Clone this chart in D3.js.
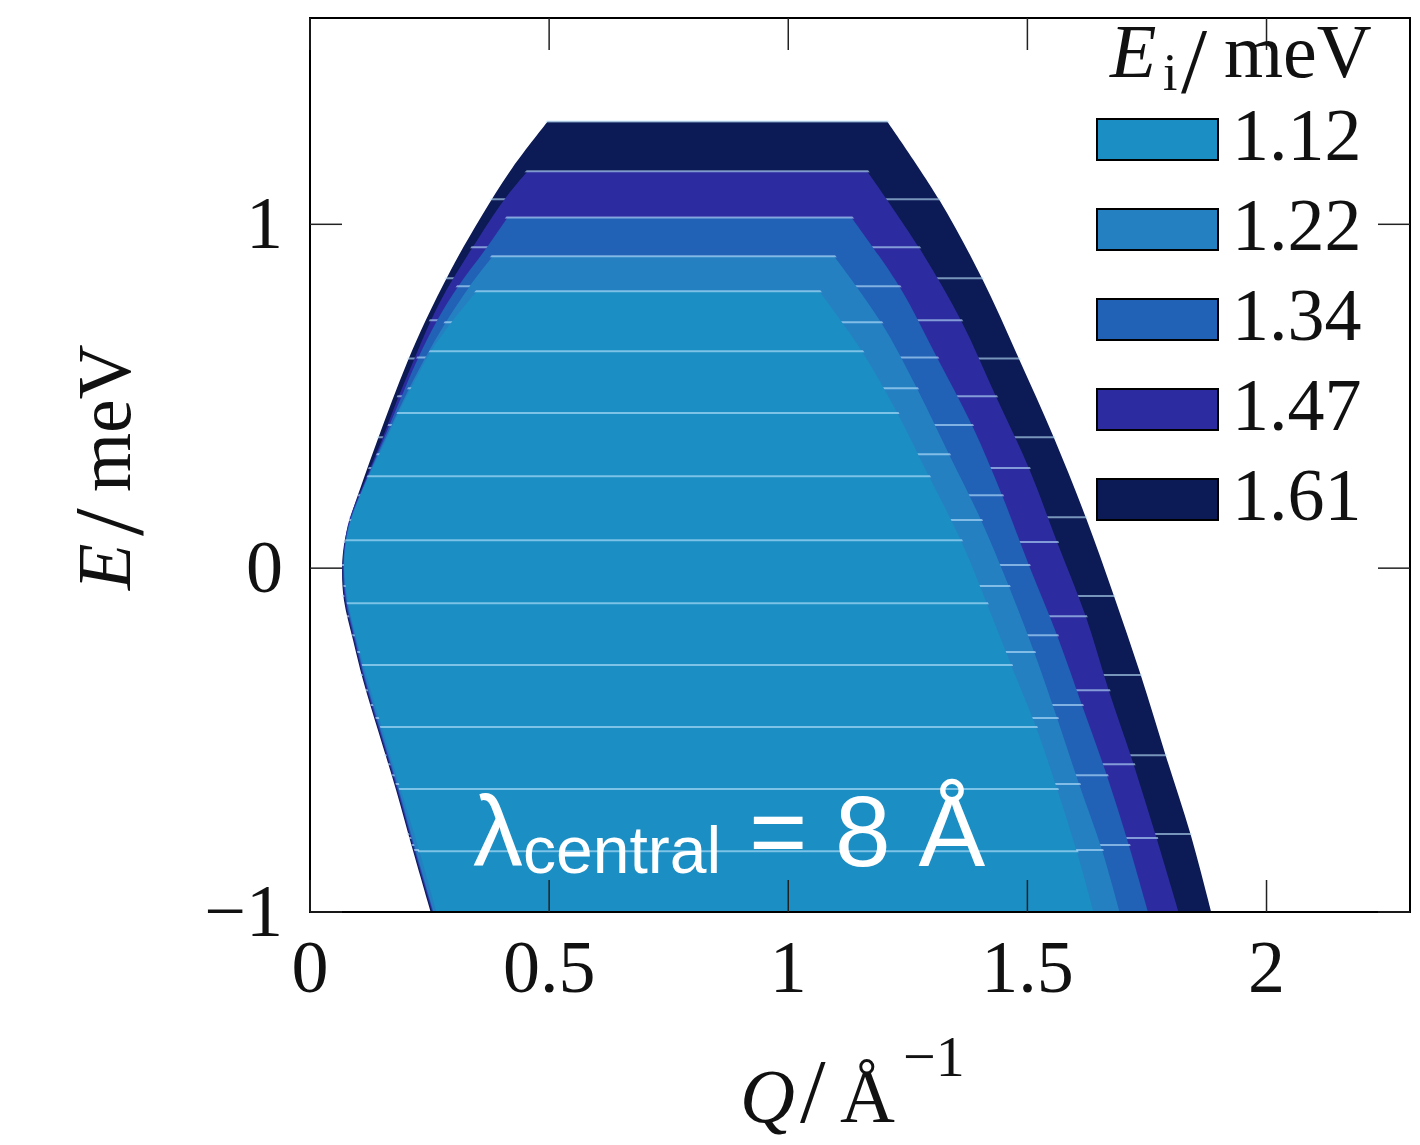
<!DOCTYPE html>
<html>
<head>
<meta charset="utf-8">
<script src="https://cdn.jsdelivr.net/npm/d3@7"></script>
<style>
  html, body { margin: 0; padding: 0; background: #ffffff; }
  svg { display: block; }
</style>
</head>
<body>
<svg id="chart" width="1420" height="1145"></svg>
<script>
// Incident energies (meV) and their fill colours
const incidentEnergies = [1.12, 1.22, 1.34, 1.47, 1.61];
const fillColors = ["#1b8ec4", "#2580c2", "#2161b6", "#2c2ca0", "#0c1a55"];

// Axis ticks
const qTicks = [0, 0.5, 1, 1.5, 2];
const eTicks = [-1, 0, 1];

// Energy-transfer levels (meV) of the slice boundaries, top to bottom
const strips112 = [0.805, 0.631, 0.451, 0.267, 0.081, -0.102, -0.282, -0.462, -0.642, -0.823, -1.003];
const strips122 = [0.907, 0.715, 0.523, 0.331, 0.140, -0.052, -0.244, -0.436, -0.628, -0.820, -1.012];
const strips134 = [1.020, 0.820, 0.613, 0.416, 0.212, 0.009, -0.195, -0.398, -0.602, -0.805, -1.009];
const strips147 = [1.154, 0.933, 0.721, 0.500, 0.291, 0.076, -0.140, -0.355, -0.570, -0.785, -1.000];
const strips161 = [1.299, 1.073, 0.843, 0.610, 0.381, 0.148, -0.081, -0.311, -0.544, -0.773, -1.003];

// High-Q limit (Å⁻¹) at each slice boundary
const right112 = [1.065, 1.154, 1.228, 1.294, 1.361, 1.415, 1.466, 1.518, 1.562, 1.603, 1.639];
const right122 = [1.096, 1.194, 1.269, 1.336, 1.403, 1.461, 1.514, 1.562, 1.608, 1.656, 1.695];
const right134 = [1.132, 1.232, 1.311, 1.384, 1.447, 1.503, 1.562, 1.614, 1.666, 1.712, 1.754];
const right147 = [1.165, 1.273, 1.361, 1.434, 1.503, 1.562, 1.622, 1.670, 1.722, 1.770, 1.816];
const right161 = [1.207, 1.315, 1.405, 1.482, 1.555, 1.622, 1.681, 1.737, 1.789, 1.841, 1.885];

// Low-Q limit as [E, Q] pairs, top to bottom
const left112 = [[0.805,0.349],[0.715,0.296],[0.631,0.253],[0.547,0.220],[0.445,0.183],[0.343,0.149],[0.256,0.119],[0.140,0.086],[0.067,0.075],[-0.006,0.072],[-0.093,0.079],[-0.209,0.098],[-0.326,0.121],[-0.471,0.152],[-0.645,0.190],[-0.820,0.228],[-1.003,0.265]];
const left122 = [[0.907,0.382],[0.820,0.334],[0.715,0.284],[0.605,0.238],[0.488,0.195],[0.372,0.156],[0.256,0.118],[0.140,0.085],[0.067,0.074],[-0.006,0.071],[-0.093,0.077],[-0.209,0.096],[-0.326,0.117],[-0.471,0.148],[-0.645,0.186],[-0.820,0.221],[-1.012,0.261]];
const left134 = [[1.020,0.413],[0.933,0.370],[0.820,0.310],[0.721,0.266],[0.605,0.224],[0.488,0.188],[0.372,0.153],[0.256,0.117],[0.140,0.084],[0.067,0.073],[-0.006,0.070],[-0.093,0.075],[-0.209,0.094],[-0.326,0.115],[-0.471,0.146],[-0.645,0.184],[-0.820,0.219],[-1.009,0.259]];
const left147 = [[1.154,0.455],[1.073,0.407],[0.933,0.340],[0.808,0.285],[0.721,0.253],[0.605,0.217],[0.488,0.182],[0.372,0.150],[0.256,0.115],[0.140,0.082],[0.067,0.072],[-0.006,0.068],[-0.093,0.073],[-0.209,0.092],[-0.326,0.113],[-0.471,0.144],[-0.645,0.182],[-0.820,0.217],[-1.000,0.255]];
const left161 = [[1.299,0.497],[1.166,0.424],[1.020,0.357],[0.866,0.294],[0.721,0.242],[0.605,0.205],[0.488,0.172],[0.372,0.141],[0.256,0.111],[0.140,0.083],[0.067,0.071],[-0.006,0.067],[-0.093,0.071],[-0.209,0.090],[-0.326,0.111],[-0.471,0.142],[-0.645,0.180],[-0.820,0.215],[-1.003,0.253]];

const layers = [
  { ei: incidentEnergies[0], color: fillColors[0], strips: strips112, right: right112, left: left112 },
  { ei: incidentEnergies[1], color: fillColors[1], strips: strips122, right: right122, left: left122 },
  { ei: incidentEnergies[2], color: fillColors[2], strips: strips134, right: right134, left: left134 },
  { ei: incidentEnergies[3], color: fillColors[3], strips: strips147, right: right147, left: left147 },
  { ei: incidentEnergies[4], color: fillColors[4], strips: strips161, right: right161, left: left161 }
];

const svg = d3.select("#chart");
const plot = { left: 310, right: 1410, top: 18, bottom: 912 };

const x = d3.scaleLinear().domain([0, 2.3]).range([plot.left, plot.right]);
const y = d3.scaleLinear().domain([-1, 1.6]).range([plot.bottom, plot.top]);

const defs = svg.append("defs");
defs.append("clipPath").attr("id", "plot-clip")
  .append("rect")
  .attr("x", plot.left).attr("y", plot.top)
  .attr("width", plot.right - plot.left).attr("height", plot.bottom - plot.top);

// Smooth edge through [E, Q] points
const edge = d3.line()
  .x(d => x(d[1]))
  .y(d => y(d[0]))
  .curve(d3.curveCatmullRom.alpha(0.5));

function regionPath(layer) {
  const leftDown = layer.left;                                   // top-left corner to bottom
  const rightUp = layer.strips.map((e, i) => [e, layer.right[i]]).reverse(); // bottom to top-right corner
  return edge(leftDown) + edge(rightUp).replace(/^M/, "L") + "Z";
}

const shapes = svg.append("g").attr("clip-path", "url(#plot-clip)");

// Largest range first, so each smaller one lies on top
layers.slice().reverse().forEach((layer, k) => {
  const id = "region-mask-" + k;
  const d = regionPath(layer);

  const mask = defs.append("mask").attr("id", id)
    .attr("maskUnits", "userSpaceOnUse")
    .attr("x", 0).attr("y", 0).attr("width", 1420).attr("height", 1145);
  mask.append("path").attr("d", d)
    .attr("fill", "#fff").attr("stroke", "#fff").attr("stroke-width", 3);

  const g = shapes.append("g");
  g.append("path").attr("d", d).attr("fill", layer.color);

  // Slice seams
  g.append("g").attr("mask", `url(#${id})`)
    .selectAll("line")
    .data(layer.strips.slice(0, -1))
    .join("line")
    .attr("x1", x(0)).attr("x2", x(2.3))
    .attr("y1", d => y(d)).attr("y2", d => y(d))
    .attr("stroke", "#bfe6ff")
    .attr("stroke-opacity", 0.6)
    .attr("stroke-width", 2);
});

// Annotation
const note = svg.append("text")
  .attr("x", 473).attr("y", 866)
  .attr("fill", "#ffffff")
  .style("font-family", "'Liberation Sans', Arial, sans-serif")
  .style("font-size", "100px");
note.append("tspan").text("λ");
note.append("tspan").attr("dy", 7).style("font-size", "66px").text("central");
note.append("tspan").attr("dy", -7).text(" = 8 Å");

// Frame and ticks
const serif = "'Liberation Serif', 'Times New Roman', serif";
const tickLen = 32;
const axes = svg.append("g");

axes.append("rect")
  .attr("x", plot.left).attr("y", plot.top)
  .attr("width", plot.right - plot.left).attr("height", plot.bottom - plot.top)
  .attr("fill", "none").attr("stroke", "#000").attr("stroke-width", 2);

axes.selectAll(".xt-bottom").data(qTicks).join("line")
  .attr("x1", d => x(d)).attr("x2", d => x(d))
  .attr("y1", plot.bottom).attr("y2", plot.bottom - tickLen)
  .attr("stroke", "#222").attr("stroke-width", 1.5);
axes.selectAll(".xt-top").data(qTicks).join("line")
  .attr("x1", d => x(d)).attr("x2", d => x(d))
  .attr("y1", plot.top).attr("y2", plot.top + tickLen)
  .attr("stroke", "#222").attr("stroke-width", 1.5);
axes.selectAll(".yt-left").data(eTicks).join("line")
  .attr("x1", plot.left).attr("x2", plot.left + tickLen)
  .attr("y1", d => y(d)).attr("y2", d => y(d))
  .attr("stroke", "#222").attr("stroke-width", 1.5);
axes.selectAll(".yt-right").data(eTicks).join("line")
  .attr("x1", plot.right).attr("x2", plot.right - tickLen)
  .attr("y1", d => y(d)).attr("y2", d => y(d))
  .attr("stroke", "#222").attr("stroke-width", 1.5);

const fmt = v => (v < 0 ? "\u2212" : "") + String(Math.abs(v));

axes.selectAll(".xl").data(qTicks).join("text")
  .attr("x", d => x(d)).attr("y", 992)
  .attr("text-anchor", "middle")
  .style("font-family", serif).style("font-size", "74px").attr("fill", "#111")
  .text(fmt);

axes.selectAll(".yl").data(eTicks).join("text")
  .attr("x", 283).attr("y", d => y(d) + 24)
  .attr("text-anchor", "end")
  .style("font-family", serif).style("font-size", "74px").attr("fill", "#111")
  .text(fmt);

// Axis titles
const xTitle = svg.append("g").style("font-family", serif).attr("fill", "#111");
xTitle.append("text").attr("x", 740).attr("y", 1122).style("font-size", "76px").style("font-style", "italic").text("Q");
xTitle.append("text").attr("x", 800).attr("y", 1122).style("font-size", "92px").text("/");
xTitle.append("text").attr("x", 840).attr("y", 1122).style("font-size", "76px").text("Å");
xTitle.append("text").attr("x", 903).attr("y", 1076).style("font-size", "58px").text("\u22121");

const yTitle = svg.append("g").attr("transform", "translate(130,590) rotate(-90)")
  .style("font-family", serif).attr("fill", "#111");
yTitle.append("text").attr("x", 0).attr("y", 0).style("font-size", "76px").style("font-style", "italic").text("E");
yTitle.append("text").attr("x", 54).attr("y", 12).style("font-size", "100px").text("/");
yTitle.append("text").attr("x", 98).attr("y", 0).style("font-size", "76px").text("meV");

// Legend
const legend = svg.append("g").style("font-family", serif).attr("fill", "#111");
legend.append("text").attr("x", 1110).attr("y", 77).style("font-size", "76px").style("font-style", "italic").text("E");
legend.append("text").attr("x", 1163).attr("y", 90).style("font-size", "52px").text("i");
legend.append("text").attr("x", 1181).attr("y", 92).style("font-size", "94px").text("/");
legend.append("text").attr("x", 1224).attr("y", 77).style("font-size", "76px").text("meV");

const entry = legend.selectAll(".entry").data(layers).join("g")
  .attr("transform", (d, i) => `translate(0, ${119 + i * 90})`);
entry.append("rect")
  .attr("x", 1097).attr("y", 0).attr("width", 121).attr("height", 41)
  .attr("fill", d => d.color).attr("stroke", "#000").attr("stroke-width", 2);
entry.append("text")
  .attr("x", 1232).attr("y", 41)
  .style("font-size", "74px")
  .text(d => d.ei.toFixed(2));
</script>
</body>
</html>
